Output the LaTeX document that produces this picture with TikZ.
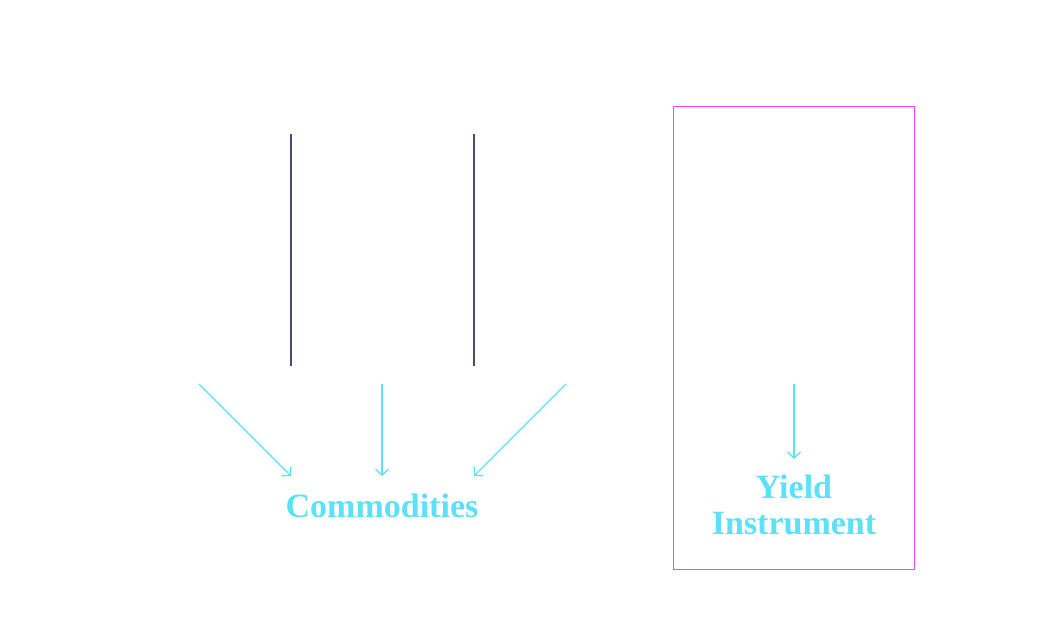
\documentclass[tikz,border=0pt]{standalone}
\usepackage{fontspec}
\setmainfont{Liberation Serif}
\usetikzlibrary{arrows.meta}
\definecolor{cyanx}{HTML}{5CE1F6}
\definecolor{slatex}{HTML}{4A4A6E}
\definecolor{pinkx}{HTML}{FF44FF}
\begin{document}
\begin{tikzpicture}[x=1pt,y=-1pt,
  flow/.style={draw=cyanx,line width=1.3pt,-{Straight Barb[length=6pt,width=13pt,line width=1.3pt]}},
  divider/.style={draw=slatex,line width=1.2pt},
  lbl/.style={text=cyanx,font=\fontsize{34}{36}\selectfont\bfseries,align=center,inner sep=0pt,anchor=base}]
\useasboundingbox (0,0) rectangle (1040,640);
\coordinate (d1a) at (291,134); \coordinate (d1b) at (291,366);
\coordinate (d2a) at (474,134); \coordinate (d2b) at (474,366);
\draw[divider] (d1a) -- (d1b);
\draw[divider] (d2a) -- (d2b);
\node[draw=pinkx,line width=1pt,minimum width=241pt,minimum height=463pt,inner sep=0pt] (box) at (793.5,337.5) {};
\node[lbl] (comm) at (382,517) {Commodities};
\node[lbl] (yield) at (794,498) {Yield};
\node[lbl] (instr) at (794,534) {Instrument};
\coordinate (s1) at (199,384); \coordinate (e1) at (291,476);
\coordinate (s2) at (382,384); \coordinate (e2) at (382,476);
\coordinate (s3) at (566,384); \coordinate (e3) at (474,476);
\coordinate (s4) at (794,384); \coordinate (e4) at (794,459);
\draw[flow] (s1) -- (e1);
\draw[flow] (s2) -- (e2);
\draw[flow] (s3) -- (e3);
\draw[flow] (s4) -- (e4);
\end{tikzpicture}
\end{document}
